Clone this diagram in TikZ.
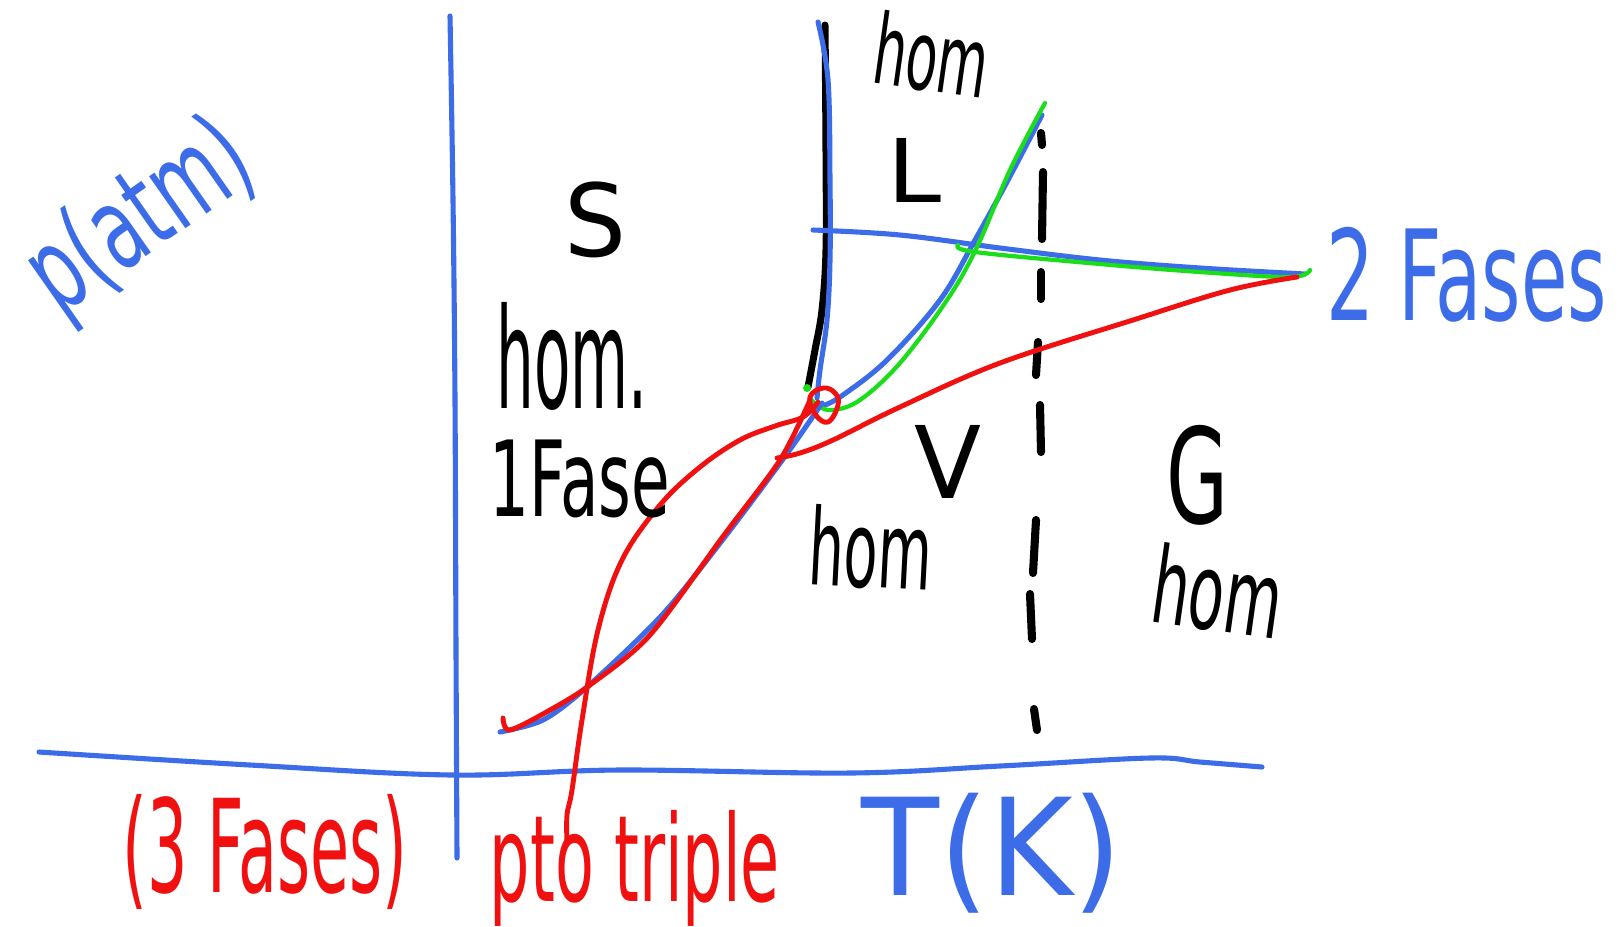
\documentclass[tikz,border=0pt]{standalone}
\usepackage{fontspec}
\setmainfont{DejaVu Sans}
\usepackage{graphicx}
\definecolor{hblue}{RGB}{60,108,232}
\definecolor{hred}{RGB}{240,16,16}
\definecolor{hgreen}{RGB}{26,222,26}
\newcommand{\fitbox}[3]{\resizebox*{#1}{#2}{#3}}
\begin{document}
\begin{tikzpicture}[x=0.01cm,y=-0.01cm,line cap=round,line join=round,
  lbl/.style={inner sep=0pt,anchor=center},
  bluepen/.style={draw=hblue,line width=1.45pt},
  redpen/.style={draw=hred,line width=1.4pt},
  greenpen/.style={draw=hgreen,line width=1.2pt},
  blackpen/.style={draw=black,line width=2pt},
  dashpen/.style={draw=black,line width=2.3pt}]
\useasboundingbox (0,0) rectangle (1621,926);
\fill[white] (0,0) rectangle (1621,926);

% axes
\draw[bluepen] plot[smooth,tension=0.6] coordinates {(39,752) (250,765) (452,775) (620,770) (850,773) (1000,766) (1150,758) (1200,762) (1262,767)};
\draw[bluepen] plot[smooth,tension=0.6] coordinates {(450,16) (453,200) (455,400) (456,650) (457,858)};

% key points
\coordinate (tp) at (818,402);
\coordinate (cp) at (1305,274);

% dashed critical isotherm
\foreach \ya/\yb/\xa/\xb in {133/145/1041/1042, 172/239/1043/1042, 272/299/1041/1041, 342/375/1038/1036, 405/452/1040/1041, 520/573/1036/1033, 594/639/1030/1032, 709/730/1034/1037}
  \draw[dashpen] (\xa,\ya) -- (\xb,\yb);

% melting line (black + blue)
\draw[blackpen] plot[smooth,tension=0.6] coordinates {(825,25) (826,150) (826,250) (822,310) (815,350) (808,387)};
\draw[bluepen] plot[smooth,tension=0.6] coordinates {(818,22) (828,80) (830,180) (830,260) (827,320) (820,370) (817,398)};

% horizontal blue line (2 fases)
\draw[bluepen] plot[smooth,tension=0.6] coordinates {(813,230) (900,235) (1000,248) (1100,260) (1200,268) (cp)};

% vaporization curve (blue + green)
\draw[bluepen] plot[smooth,tension=0.6] coordinates {(1042,115) (1008,180) (975,240) (940,300) (887,360) (843,395) (825,405)};
\draw[greenpen] plot[smooth,tension=0.6] coordinates {(1045,103) (1010,170) (977,247) (947,300) (900,363) (860,400) (833,410) (818,406) (810,398)};
\draw[greenpen] plot[smooth,tension=0.6] coordinates {(958,245) (975,252) (1100,264) (1200,272) (1290,277) (1310,270)};
\fill[hgreen] (807,388) circle (4);

% sublimation curve (blue + red)
\draw[bluepen] plot[smooth,tension=0.5] coordinates {(822,403) (786,455) (724,538) (662,615) (587,687) (543,720) (500,732)};
\draw[redpen] plot[smooth,tension=0.5] coordinates {(503,718) (510,730) (550,710) (590,685) (650,635) (724,535) (780,460) (810,400)};

% red vapour line to 2 fases point
\draw[redpen] plot[smooth,tension=0.6] coordinates {(777,458) (800,453) (833,440) (900,407) (1000,363) (1133,320) (1230,290) (1297,277)};

% red arrow line from "pto triple" to triple point
\draw[redpen] plot[smooth,tension=0.6] coordinates {(567,842) (567,815) (572,790) (582,720) (598,630) (622,560) (660,505) (700,467) (740,440) (775,426) (803,417) (tp)};
\draw[redpen] plot[smooth cycle,tension=0.7] coordinates {(810,397) (823,388) (835,393) (838,405) (828,422) (815,414)};

% labels
\node[lbl,text=hblue,rotate=35] (pat) at (142,220) {\fitbox{2.45cm}{1.12cm}{p(atm)}};
\node[lbl] (sl) at (596,220) {\fitbox{0.62cm}{0.76cm}{S}};
\node[lbl] (hs) at (572,356) {\fitbox{1.51cm}{1.08cm}{hom.}};
\node[lbl] (f1) at (580,479) {\fitbox{1.80cm}{0.78cm}{1Fase}};
\node[lbl,rotate=-8] (hl) at (932,55) {\fitbox{1.15cm}{0.75cm}{hom}};
\node[lbl] (ll) at (915,170) {\fitbox{0.54cm}{0.64cm}{L}};
\node[lbl] (vl) at (948,462) {\fitbox{0.67cm}{0.73cm}{V}};
\node[lbl] (gl) at (1198,475) {\fitbox{0.62cm}{1.0cm}{G}};
\node[lbl,rotate=-3] (hv) at (871,548) {\fitbox{1.23cm}{0.82cm}{hom}};
\node[lbl,rotate=-8] (hg) at (1218,591) {\fitbox{1.30cm}{0.82cm}{hom}};
\node[lbl,text=hblue] (f2) at (1467,275) {\fitbox{2.80cm}{0.95cm}{2 Fases}};
\node[lbl,text=hred] (f3) at (265,852) {\fitbox{2.85cm}{1.15cm}{(3 Fases)}};
\node[lbl,text=hred] (pt) at (635,868) {\fitbox{2.90cm}{1.16cm}{pto triple}};
\node[lbl,text=hblue] (tk) at (992,853) {\fitbox{2.61cm}{1.20cm}{T(K)}};
\end{tikzpicture}
\end{document}
